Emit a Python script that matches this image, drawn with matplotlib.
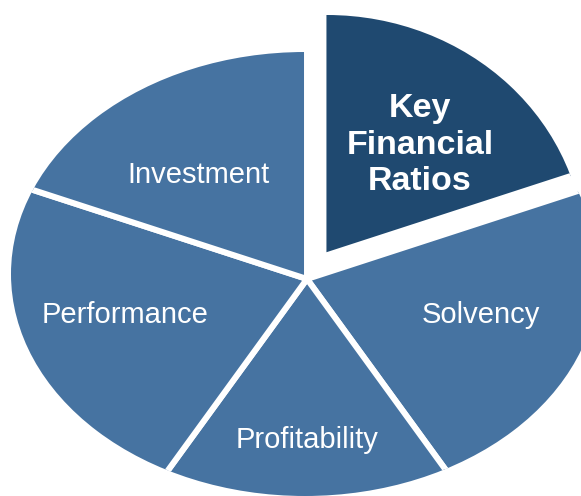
import matplotlib.pyplot as plt
from matplotlib.patches import Ellipse

labels = ['Key\nFinancial\nRatios', 'Solvency', 'Profitability', 'Performance', 'Investment']
sizes = [1, 1, 1, 1, 1]
explode = [28, 0, 0, 0, 0]
colors = ['#1f4970', '#4673a1', '#4673a1', '#4673a1', '#4673a1']

# label anchor points in pixel coords (y measured from top)
label_pos = [(420, 145), (481, 323), (307, 448), (125, 323), (198, 183)]

W, H = 581, 496
fig = plt.figure(figsize=(W / 100, H / 100), dpi=100)
ax = fig.add_axes([0, 0, 1, 1])

apex = (307, H - 279)
wedges, _ = ax.pie(sizes, explode=explode, colors=colors, startangle=90, counterclock=False,
                   center=apex, radius=450, frame=False,
                   wedgeprops=dict(edgecolor='white', linewidth=4.3))

ax.set_xlim(0, W)
ax.set_ylim(0, H)
ax.set_aspect('equal')
ax.axis('off')

# outline is an ellipse, the pulled-out slice has its own rounder outline
main_clip = Ellipse((305, H - 274), 588, 444, facecolor='none', edgecolor='none')
key_clip = Ellipse((327, H - 255), 516, 480, facecolor='none', edgecolor='none')
ax.add_patch(main_clip)
ax.add_patch(key_clip)
for i, w in enumerate(wedges):
    w.set_clip_on(True)  # pie turns clipping off for its wedges
    w.set_clip_path(key_clip if i == 0 else main_clip)

font = ['Liberation Sans', 'DejaVu Sans']
for i, (lab, (x, y)) in enumerate(zip(labels, label_pos)):
    if i == 0:
        ax.text(x, H - y, lab, ha='center', va='center', color='white', fontsize=24.5,
                fontweight='bold', family=font, linespacing=1.22)
    else:
        ax.text(x, H - y, lab, ha='center', va='baseline', color='white', fontsize=21,
                family=font)

fig.savefig('out.png', dpi=100)
